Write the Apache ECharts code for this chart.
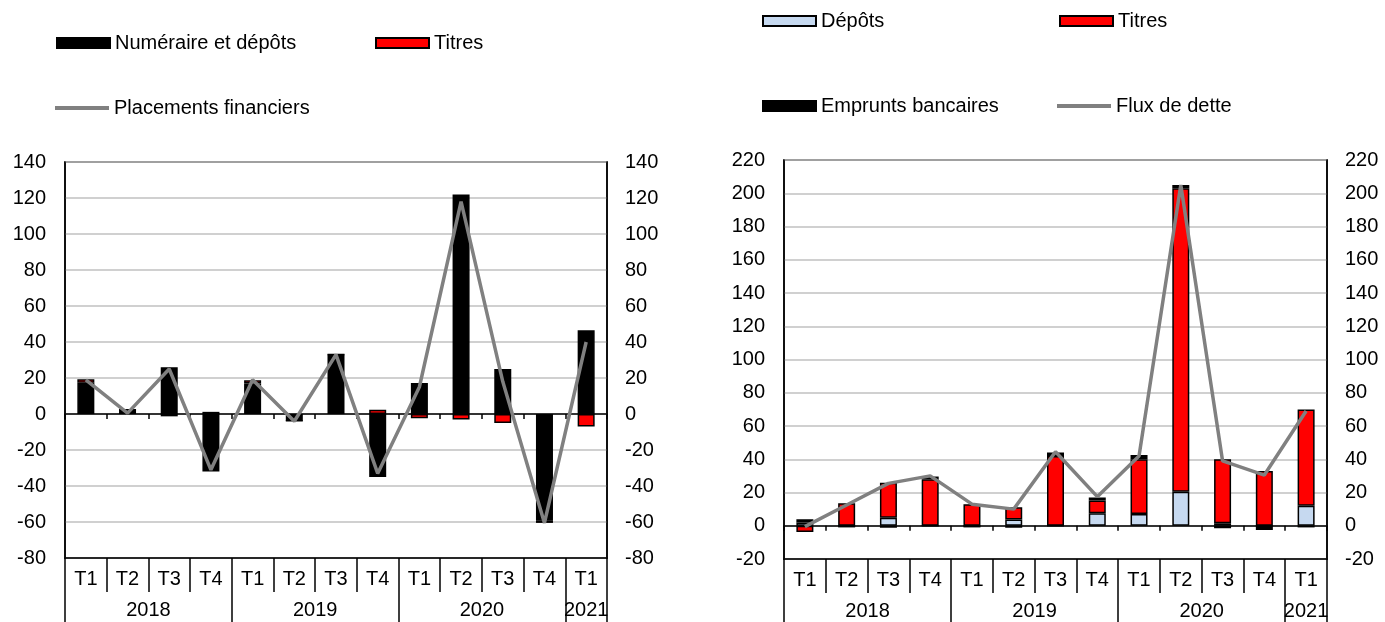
<!DOCTYPE html>
<html>
<head>
<meta charset="utf-8">
<script src="https://cdn.jsdelivr.net/npm/echarts@6/dist/echarts.min.js"></script>
<style>html,body{margin:0;padding:0;background:#fff}#c{width:1385px;height:622px}</style>
</head>
<body>
<div id="c"></div>
<script>
// ---------- data ----------
const quarters = ['T1','T2','T3','T4','T1','T2','T3','T4','T1','T2','T3','T4','T1'];
const years = ['2018','2019','2020','2021'];
const quartersPerYear = [4, 4, 4, 1];

// Left chart
const numeraireDepots = [17.3, 2.4, 26, -32, 17, -3.8, 33, -35, 17.2, 122, 25, -59, 46.5];
const titresLeft      = [2, 0, -1.3, 1.2, 1.7, 0, 0, 2.4, -2.3, -3, -5, -1.5, -7];
const placements      = [19, 0.5, 25, -31, 19, -4, 33, -33, 15, 118, 18, -60.5, 40];

// Right chart
const depots          = [1.9, 0, 4.8, 0, 0, 3.8, 0, 7.5, 7, 20.5, 1.5, 0, 12];
const titresRight     = [-3.8, 13.5, 21, 28, 13, 7.3, 42, 7.7, 33, 182.5, 38.5, 33, 58];
const emprunts        = [2, -1, -1.2, 1.6, -1, -1.2, 2, 1.8, 2.5, 2, -1.5, -2.5, -1];
const fluxDette       = [-0.5, 12.5, 25.5, 30, 13, 10, 44.5, 17.5, 42, 205, 39, 30.5, 69];

// ---------- derived year-axis positions ----------
const yearBounds = [0];
quartersPerYear.forEach(n => yearBounds.push(yearBounds[yearBounds.length - 1] + n));
const yearCenters = quartersPerYear.map((n, i) => yearBounds[i] + n / 2);
const yearLabelOf = v => { const i = yearCenters.indexOf(v); return i >= 0 ? years[i] : ''; };

const FONT = 'Liberation Sans, Arial, sans-serif';
const GRAY = '#808080';
const RED = '#FF0000';
const BLUE = '#C6D9F0';

function xAxesFor(g) {
  return [
    { // quarter row at bottom of plot
      type: 'category', gridIndex: g, data: quarters, position: 'bottom',
      axisLine: { show: true, onZero: false, lineStyle: { color: '#000', width: 1.5 } },
      axisTick: { show: true, alignWithLabel: false, length: 34, lineStyle: { color: '#000', width: 1.5 } },
      axisLabel: { interval: 0, fontSize: 20, color: '#000', margin: 11, fontFamily: FONT },
      splitLine: { show: false }
    },
    { // year row
      type: 'value', gridIndex: g, min: 0, max: yearBounds[yearBounds.length - 1], position: 'bottom',
      axisLine: { show: false, onZero: false },
      axisTick: { show: true, customValues: yearBounds, length: 80, lineStyle: { color: '#000', width: 1.5 } },
      axisLabel: { show: true, customValues: yearCenters, formatter: yearLabelOf, fontSize: 20, color: '#000', margin: 42, fontFamily: FONT },
      splitLine: { show: false }
    },
    { // zero line
      type: 'category', gridIndex: g, data: quarters, position: 'bottom',
      axisLine: { show: true, onZero: true, onZeroAxisIndex: g * 2, lineStyle: { color: '#000', width: 1.5 } },
      axisTick: { show: true, alignWithLabel: false, length: 5, lineStyle: { color: '#000', width: 1.5 } },
      axisLabel: { show: false },
      splitLine: { show: false }
    }
  ];
}

function yAxesFor(g, min, max, interval) {
  return [
    {
      type: 'value', gridIndex: g, min, max, interval, position: 'left',
      axisLine: { show: true, lineStyle: { color: '#000', width: 1.5 } },
      axisTick: { show: false },
      axisLabel: { fontSize: 20, color: '#000', margin: 19, fontFamily: FONT },
      splitLine: { show: true, lineStyle: { color: '#C0C0C0', width: 1.5 } }
    },
    {
      type: 'value', gridIndex: g, min, max, interval, position: 'right',
      axisLine: { show: true, lineStyle: { color: '#000', width: 1.5 } },
      axisTick: { show: false },
      axisLabel: { fontSize: 20, color: '#000', margin: 18, fontFamily: FONT },
      splitLine: { show: false }
    }
  ];
}

const barBase = { type: 'bar', barWidth: 17, itemStyle: { borderColor: '#000', borderWidth: 1.5 } };

const legendBar = {
  icon: 'rect', itemWidth: 53, itemHeight: 10, padding: 0, itemGap: 0,
  textStyle: { fontSize: 20, color: '#000', fontFamily: FONT }
};
const legendLine = {
  icon: 'rect', itemWidth: 54, itemHeight: 4, padding: 0, itemGap: 0,
  itemStyle: { borderWidth: 0 },
  textStyle: { fontSize: 20, color: '#000', fontFamily: FONT }
};

const option = {
  animation: false,
  textStyle: { fontFamily: FONT },
  grid: [
    { left: 65, top: 162, width: 542, height: 396, show: true, borderColor: '#000', borderWidth: 1.5 },
    { left: 784, top: 160, width: 543, height: 399, show: true, borderColor: '#000', borderWidth: 1.5 }
  ],
  legend: [
    Object.assign({ data: ['Numéraire et dépôts'], left: 56, top: 33 }, legendBar),
    Object.assign({ data: ['Titres'], left: 375, top: 33 }, legendBar),
    Object.assign({ data: ['Placements financiers'], left: 55, top: 98 }, legendLine),
    Object.assign({ data: ['Dépôts'], left: 762, top: 11 }, legendBar),
    Object.assign({ data: ['Titres'], left: 1059, top: 11 }, legendBar),
    Object.assign({ data: ['Emprunts bancaires'], left: 762, top: 96 }, legendBar),
    Object.assign({ data: ['Flux de dette'], left: 1057, top: 96 }, legendLine)
  ],
  xAxis: xAxesFor(0).concat(xAxesFor(1)),
  yAxis: yAxesFor(0, -80, 140, 20).concat(yAxesFor(1, -20, 220, 20)),
  series: [
    Object.assign({}, barBase, { name: 'Numéraire et dépôts', xAxisIndex: 0, yAxisIndex: 0, stack: 'L', data: numeraireDepots, itemStyle: { color: '#000', borderColor: '#000', borderWidth: 1.5 } }),
    Object.assign({}, barBase, { name: 'Titres', xAxisIndex: 0, yAxisIndex: 0, stack: 'L', data: titresLeft, itemStyle: { color: RED, borderColor: '#000', borderWidth: 1.5 } }),
    { name: 'Placements financiers', type: 'line', xAxisIndex: 0, yAxisIndex: 0, data: placements, symbol: 'none', lineStyle: { color: GRAY, width: 3.5 }, itemStyle: { color: GRAY }, z: 5 },
    Object.assign({}, barBase, { name: 'Dépôts', xAxisIndex: 3, yAxisIndex: 2, stack: 'R', data: depots, itemStyle: { color: BLUE, borderColor: '#000', borderWidth: 1.5 } }),
    Object.assign({}, barBase, { name: 'Titres', xAxisIndex: 3, yAxisIndex: 2, stack: 'R', data: titresRight, itemStyle: { color: RED, borderColor: '#000', borderWidth: 1.5 } }),
    Object.assign({}, barBase, { name: 'Emprunts bancaires', xAxisIndex: 3, yAxisIndex: 2, stack: 'R', data: emprunts, itemStyle: { color: '#000', borderColor: '#000', borderWidth: 1.5 } }),
    { name: 'Flux de dette', type: 'line', xAxisIndex: 3, yAxisIndex: 2, data: fluxDette, symbol: 'none', lineStyle: { color: GRAY, width: 3.5 }, itemStyle: { color: GRAY }, z: 5 }
  ]
};

const chart = echarts.init(document.getElementById('c'), null, { renderer: 'canvas' });
chart.setOption(option);
</script>
</body>
</html>
